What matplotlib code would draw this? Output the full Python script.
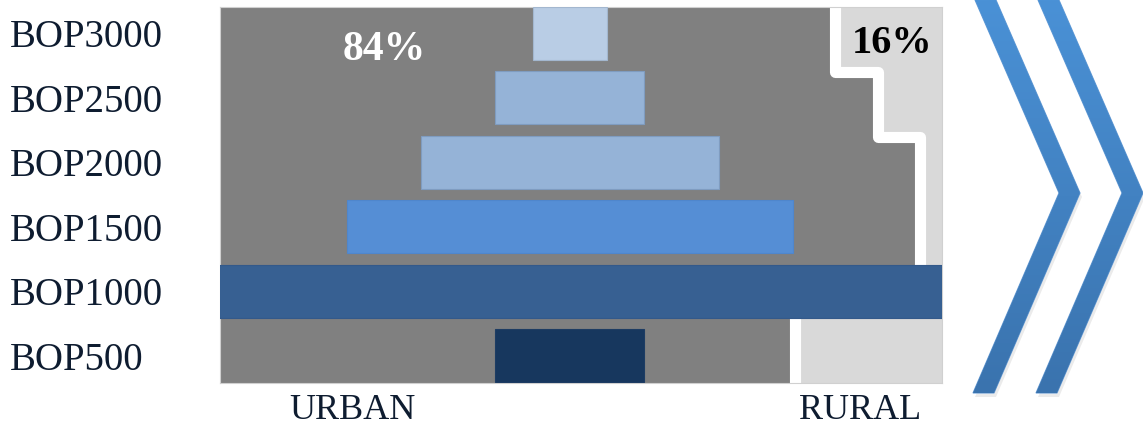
import numpy as np
import matplotlib
matplotlib.use('Agg')
import matplotlib.pyplot as plt
from matplotlib.patches import Polygon
from matplotlib.colors import LinearSegmentedColormap

plt.rcParams['font.family'] = ['Liberation Serif', 'DejaVu Serif']

# income levels, top to bottom
levels = ['BOP3000', 'BOP2500', 'BOP2000', 'BOP1500', 'BOP1000', 'BOP500']
widths = [10, 20, 40, 60, 100, 20]
bar_colors = ['#b9cde5', '#95b3d7', '#95b3d7', '#558ed5', '#376092', '#17375e']
edge_colors = ['#a3b7cf', '#7f9cc0', '#7f9cc0', '#4f86cc', '#33598a', '#1d3c63']

# urban / rural split line (x of split, rows where it steps)
split_x = [35.6, 41.4, 47.1, 30.2]
split_y = [0.6, 1.6, 4.0]
urban_share = 84
rural_share = 16

GREY = '#808080'
LIGHT = '#d9d9d9'
TEXT = '#0e1c30'

fig = plt.figure(figsize=(11.43, 4.33), dpi=100)
ax = fig.add_axes([220/1143, 50/433, 722/1143, 376/433])
ax.set_facecolor(LIGHT)
x0, x1 = -47, 50
y_top, y_bot = -0.41, 5.42
ax.set_xlim(x0, x1)
ax.set_ylim(y_bot, y_top)

# grey urban area with white stepped border
starts = [y_top] + split_y
ends = split_y + [y_bot]
ys, xs = [], []
for s, e, x in zip(starts, ends, split_x):
    ys += [s, e]
    xs += [x, x]
ax.fill_betweenx(ys, x0, xs, color=GREY, lw=0, zorder=1)
ax.plot(xs, ys, color='white', lw=8, solid_joinstyle='round', solid_capstyle='butt', zorder=2)

# pyramid bars centred on zero
rows = np.arange(len(levels))
w = np.array(widths)
ax.barh(rows, w, left=-w/2, height=0.82, color=bar_colors, edgecolor=edge_colors,
        linewidth=0.8, zorder=3)

ax.text(-24.9, 0.25, f'{urban_share}%', color='white', fontsize=30, fontweight='bold',
        ha='center', va='center', zorder=4)
ax.text(43.3, 0.16, f'{rural_share}%', color='black', fontsize=29, fontweight='bold',
        ha='center', va='center', zorder=4)

ax.set_yticks(rows)
ax.set_yticklabels(levels, ha='left', fontsize=28, color=TEXT)
ax.tick_params(axis='y', length=0, pad=151)
ax.set_xticks([])
for sp in ax.spines.values():
    sp.set_color('#d0d0d0')
    sp.set_linewidth(0.8)

ax.text(0.184, -0.072, 'URBAN', transform=ax.transAxes, fontsize=26, color=TEXT,
        ha='center', va='center')
ax.text(0.886, -0.072, 'RURAL', transform=ax.transAxes, fontsize=26, color=TEXT,
        ha='center', va='center')

# decorative chevrons on the right, drawn in pixel space
ov = fig.add_axes([0, 0, 1, 1])
ov.set_xlim(0, 1143)
ov.set_ylim(433, 0)
ov.axis('off')
ov.patch.set_alpha(0)

chev_top_x = 975
chev_tip_x = 1059
chev_bot_x = 973
chev_mid_y = 193
chev_bot_y = 393
stroke = 21
gap = 63
cmap = LinearSegmentedColormap.from_list('chev', ['#4a91d6', '#3a73ae'])
grad = np.linspace(0, 1, 200).reshape(-1, 1)

for k in range(2):
    dx = k * gap
    pts = [(chev_top_x + dx, 0), (chev_top_x + stroke + dx, 0),
           (chev_tip_x + stroke + dx, chev_mid_y), (chev_bot_x + stroke + dx, chev_bot_y),
           (chev_bot_x + dx, chev_bot_y), (chev_tip_x + dx, chev_mid_y)]
    shadow = Polygon([(px + 2, py + 4) for px, py in pts], closed=True,
                     facecolor='#000000', alpha=0.08, edgecolor='none')
    ov.add_patch(shadow)
    poly = Polygon(pts, closed=True, facecolor='none', edgecolor='#6a9fd8', lw=0.8)
    ov.add_patch(poly)
    im = ov.imshow(grad, extent=(940, 1143, chev_bot_y, 0), cmap=cmap, aspect='auto',
                   origin='upper', zorder=1)
    im.set_clip_path(poly)
ov.set_xlim(0, 1143)
ov.set_ylim(433, 0)

fig.savefig('out.png', dpi=100)
